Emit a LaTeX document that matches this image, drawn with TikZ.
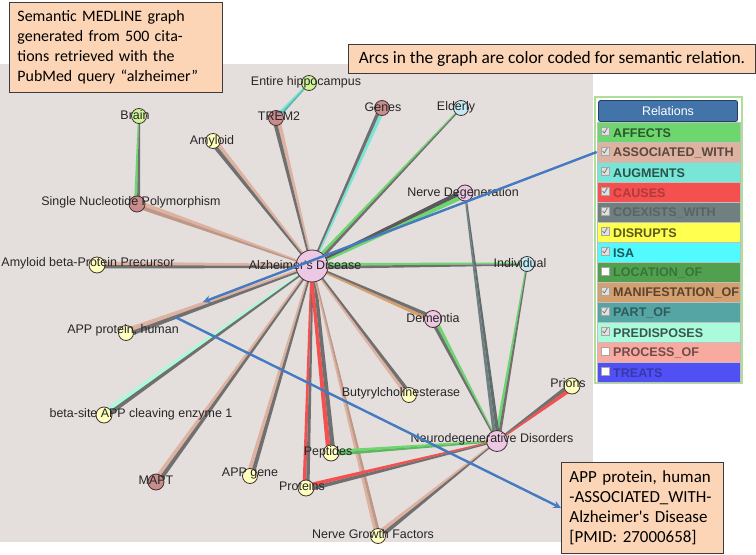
\documentclass[tikz,border=0pt]{standalone}
\usepackage{fontspec}
\setmainfont{Liberation Sans}
\newfontfamily\calloutfont{Carlito}
\usetikzlibrary{arrows,calc}
\pgfdeclarelayer{back}
\pgfdeclarelayer{edges}
\pgfsetlayers{back,edges,main}

\definecolor{bggray}{RGB}{228,223,221}
\definecolor{peach}{RGB}{251,213,181}
\definecolor{calloutedge}{RGB}{60,60,60}
\definecolor{arcblue}{RGB}{70,122,192}
\definecolor{arcgray}{RGB}{112,112,112}
\definecolor{affects}{RGB}{110,214,110}
\definecolor{assoc}{RGB}{222,178,160}
\definecolor{augments}{RGB}{120,230,215}
\definecolor{causes}{RGB}{245,80,80}
\definecolor{coexists}{RGB}{112,128,128}
\definecolor{disrupts}{RGB}{255,255,80}
\definecolor{isa}{RGB}{80,250,255}
\definecolor{locof}{RGB}{80,160,80}
\definecolor{manif}{RGB}{212,160,112}
\definecolor{partof}{RGB}{85,165,165}
\definecolor{predis}{RGB}{170,250,220}
\definecolor{procof}{RGB}{248,170,160}
\definecolor{treats}{RGB}{80,80,245}
\definecolor{npink}{RGB}{236,200,228}
\definecolor{nyellow}{RGB}{255,255,190}
\definecolor{ngreen}{RGB}{205,245,150}
\definecolor{nbrown}{RGB}{200,140,140}
\definecolor{ncyan}{RGB}{195,235,245}
\definecolor{nodeedge}{RGB}{70,50,50}
\definecolor{panelgreen}{RGB}{175,222,155}
\definecolor{headblue}{RGB}{66,116,170}

% tapered arc: wide end #1, narrow end #2, halves #3/#4, half widths #5/#6
\newcommand{\relarc}[6]{%
  \fill[#3] (#1.center) -- ($(#1.center)!#5!90:(#2.center)$) -- ($(#2.center)!#6!-90:(#1.center)$) -- (#2.center) -- cycle;
  \fill[#4] (#1.center) -- ($(#1.center)!#5!-90:(#2.center)$) -- ($(#2.center)!#6!90:(#1.center)$) -- (#2.center) -- cycle;
}

\begin{document}
\begin{tikzpicture}[x=1bp, y=-1bp]
      \tikzstyle{arrow} = [line width=2.4bp, ->, >=stealth, draw=arcblue]
      \tikzstyle{concept} = [circle, draw=nodeedge, line width=0.8bp, inner sep=0pt, minimum size=15bp]
      \tikzstyle{conceptlabel} = [font=\fontsize{12.5}{14}\selectfont, text=black!85, inner sep=0pt]
      \tikzstyle{callout} = [draw=calloutedge, fill=peach, line width=0.9bp, font=\calloutfont\fontsize{16}{20}\selectfont, align=left, inner sep=0pt, anchor=north west]
      \tikzstyle{relrow} = [rectangle, minimum width=143bp, minimum height=20bp, inner sep=0pt, draw=black!25, line width=0.5bp]
      \tikzstyle{reltext} = [font=\fontsize{12.6}{14}\selectfont\bfseries, inner sep=0pt, anchor=west]
      \tikzstyle{checkbox} = [rectangle, minimum size=8bp, inner sep=0pt, draw=black!35, line width=0.5bp]

      \useasboundingbox (0,0) rectangle (756,555);
      \begin{pgfonlayer}{back}
        \fill[bggray] (0,64) rectangle (593,542);
      \end{pgfonlayer}

      % concepts
      \node[concept, fill=npink, minimum size=32bp] (ad) at (312,266) {};
      \node[concept, fill=ngreen] (eh) at (309,83) {};
      \node[concept, fill=ngreen] (brain) at (139,116) {};
      \node[concept, fill=nbrown] (trem2) at (276,118) {};
      \node[concept, fill=nyellow] (amyloid) at (213,141) {};
      \node[concept, fill=nbrown] (genes) at (382,108) {};
      \node[concept, fill=ncyan] (elderly) at (461,108) {};
      \node[concept, fill=nbrown, minimum size=16bp] (snp) at (137,204) {};
      \node[concept, fill=npink, minimum size=16bp] (nervedeg) at (465,193) {};
      \node[concept, fill=nyellow, minimum size=16bp] (abpp) at (97,265) {};
      \node[concept, fill=ncyan] (indiv) at (527,264) {};
      \node[concept, fill=nyellow] (appprot) at (126,333) {};
      \node[concept, fill=npink, minimum size=17bp] (dementia) at (433,319) {};
      \node[concept, fill=nyellow] (bche) at (409,395) {};
      \node[concept, fill=nyellow, minimum size=16bp] (bace) at (104,415) {};
      \node[concept, fill=nyellow, minimum size=16bp] (prions) at (572,386) {};
      \node[concept, fill=npink, minimum size=21bp] (nd) at (497,441) {};
      \node[concept, fill=nyellow, minimum size=16bp] (peptides) at (331,453) {};
      \node[concept, fill=nbrown, minimum size=16bp] (mapt) at (156,482) {};
      \node[concept, fill=nyellow] (appgene) at (250,476) {};
      \node[concept, fill=nyellow, minimum size=16bp] (proteins) at (306,488) {};
      \node[concept, fill=nyellow] (ngf) at (378,536) {};

      \node[conceptlabel] (ad-l) at (305,265) {Alzheimer\textquotesingle s Disease};
      \node[conceptlabel] (eh-l) at (306,82) {Entire hippocampus};
      \node[conceptlabel] (brain-l) at (135,115) {Brain};
      \node[conceptlabel] (trem2-l) at (279,116) {TREM2};
      \node[conceptlabel] (amyloid-l) at (212,141) {Amyloid};
      \node[conceptlabel] (genes-l) at (383,107) {Genes};
      \node[conceptlabel] (elderly-l) at (456,107) {Elderly};
      \node[conceptlabel] (snp-l) at (131,202) {Single Nucleotide Polymorphism};
      \node[conceptlabel] (nervedeg-l) at (463,193) {Nerve Degeneration};
      \node[conceptlabel] (abpp-l) at (88,263) {Amyloid beta-Protein Precursor};
      \node[conceptlabel] (indiv-l) at (520,263) {Individual};
      \node[conceptlabel] (appprot-l) at (123,330) {APP protein, human};
      \node[conceptlabel] (dementia-l) at (433,318) {Dementia};
      \node[conceptlabel] (bche-l) at (401,393) {Butyrylcholinesterase};
      \node[conceptlabel] (bace-l) at (141,414) {beta-site APP cleaving enzyme 1};
      \node[conceptlabel] (prions-l) at (568,383) {Prions};
      \node[conceptlabel] (nd-l) at (492,439) {Neurodegenerative Disorders};
      \node[conceptlabel] (peptides-l) at (328,452) {Peptides};
      \node[conceptlabel] (mapt-l) at (156,480) {MAPT};
      \node[conceptlabel] (appgene-l) at (250,474) {APP gene};
      \node[conceptlabel] (proteins-l) at (302,486) {Proteins};
      \node[conceptlabel] (ngf-l) at (373,534) {Nerve Growth Factors};

      % arcs, colour coded
      \begin{pgfonlayer}{edges}
        \relarc{snp}{brain}{affects}{arcgray}{3bp}{1bp}
        \relarc{snp}{ad}{assoc}{assoc!85!black}{4bp}{1bp}
        \relarc{amyloid}{ad}{assoc}{arcgray}{4bp}{1.5bp}
        \relarc{trem2}{ad}{assoc}{arcgray}{4bp}{1.5bp}
        \relarc{trem2}{eh}{augments}{augments!80!black}{2.5bp}{1bp}
        \relarc{genes}{ad}{augments}{arcgray}{3.5bp}{1.5bp}
        \relarc{ad}{elderly}{affects}{arcgray}{3bp}{1bp}
        \relarc{nervedeg}{ad}{affects}{arcgray!80!black}{4.5bp}{2bp}
        \relarc{ad}{indiv}{affects}{arcgray}{3bp}{1.5bp}
        \relarc{abpp}{ad}{assoc}{arcgray}{3.5bp}{2bp}
        \relarc{appprot}{ad}{assoc}{arcgray}{4.5bp}{1.5bp}
        \relarc{bace}{ad}{predis}{arcgray}{4bp}{1.5bp}
        \relarc{mapt}{ad}{assoc}{arcgray}{4bp}{1.5bp}
        \relarc{appgene}{ad}{assoc}{arcgray}{4bp}{1.5bp}
        \relarc{proteins}{ad}{causes}{arcgray}{3.5bp}{1.5bp}
        \relarc{peptides}{ad}{causes}{arcgray}{4.5bp}{3bp}
        \relarc{ngf}{ad}{assoc}{assoc!85!black}{3bp}{1bp}
        \relarc{bche}{ad}{assoc}{arcgray}{3.5bp}{1.5bp}
        \relarc{dementia}{ad}{manif}{arcgray}{3.5bp}{1.5bp}
        \relarc{dementia}{nd}{affects}{arcgray}{3.5bp}{1bp}
        \relarc{nd}{indiv}{affects}{arcgray}{3bp}{1bp}
        \relarc{nd}{nervedeg}{coexists}{coexists!85!black}{3.5bp}{1bp}
        \relarc{prions}{nd}{causes}{arcgray}{4bp}{1bp}
        \relarc{peptides}{nd}{affects}{affects!85!black}{3bp}{1bp}
        \relarc{proteins}{nd}{causes}{arcgray}{4bp}{1bp}
        \relarc{ngf}{nd}{assoc}{arcgray}{4bp}{1bp}
      \end{pgfonlayer}

      % relations panel
      \node[rectangle, draw=panelgreen, fill=white, line width=2bp, minimum width=147bp, minimum height=286bp] (relpanel) at (668.5,240) {};
      \node[rectangle, rounded corners=2bp, draw=headblue!55!black, fill=headblue, line width=0.8bp, minimum width=139bp, minimum height=21bp, text=white, font=\fontsize{12.5}{14}\selectfont] (relhead) at (668,111) {Relations};
      \foreach \i/\nm/\col/\txt/\chk in {1/AFFECTS/affects/affects!40!black/1,
          2/ASSOCIATED\_WITH/assoc/assoc!40!black/1,
          3/AUGMENTS/augments/augments!35!black/1,
          4/CAUSES/causes/causes!72!black/1,
          5/COEXISTS\_WITH/coexists/coexists!78!black/1,
          6/DISRUPTS/disrupts/disrupts!35!black/1,
          7/ISA/isa/isa!35!black/1,
          8/LOCATION\_OF/locof/locof!72!black/0,
          9/MANIFESTATION\_OF/manif/manif!42!black/1,
          10/PART\_OF/partof/partof!55!black/1,
          11/PREDISPOSES/predis/predis!35!black/1,
          12/PROCESS\_OF/procof/procof!45!black/0,
          13/TREATS/treats/treats!70!black/0}
      {
        \node[relrow, fill=\col] (rel-\i) at (668.5, 112+20*\i) {};
        \node[reltext, text=\txt] (reltxt-\i) at (613, 113+20*\i) {\nm};
        \ifnum\chk=1
          \node[checkbox, fill=black!12] (chk-\i) at (605, 111+20*\i) {};
          \draw[black!55, line width=0.7bp] ($(chk-\i.center)+(-2.5,0)$) -- ++(1.8,2) -- ++(3,-5);
        \else
          \node[checkbox, fill=white] (chk-\i) at (605, 111+20*\i) {};
        \fi
      }

      % callouts
      \node[callout, minimum width=213bp, minimum height=90bp, text width=197bp] (query) at (9,2)
        {Semantic MEDLINE graph\\generated from 500 cita-\\tions retrieved with the\\PubMed query “alzheimer”};
      \node[callout, minimum width=407bp, minimum height=29bp, font=\calloutfont\fontsize{17.4}{20}\selectfont] (coding) at (348,44)
        {Arcs in the graph are color coded for semantic relation.};
      \node[callout, minimum width=162bp, minimum height=91bp, text width=146bp, font=\calloutfont\fontsize{17}{20}\selectfont] (pmid) at (561,462)
        {APP protein, human\\-ASSOCIATED\_WITH-\\Alzheimer\textquotesingle s Disease\\{}[PMID: 27000658]};

      \coordinate (tip1) at (203,302);
      \coordinate (apppt) at (175,317);
      \draw [arrow] (rel-2.west) -- (tip1);
      \draw [arrow] (apppt) -- (pmid.west);
\end{tikzpicture}
\end{document}
